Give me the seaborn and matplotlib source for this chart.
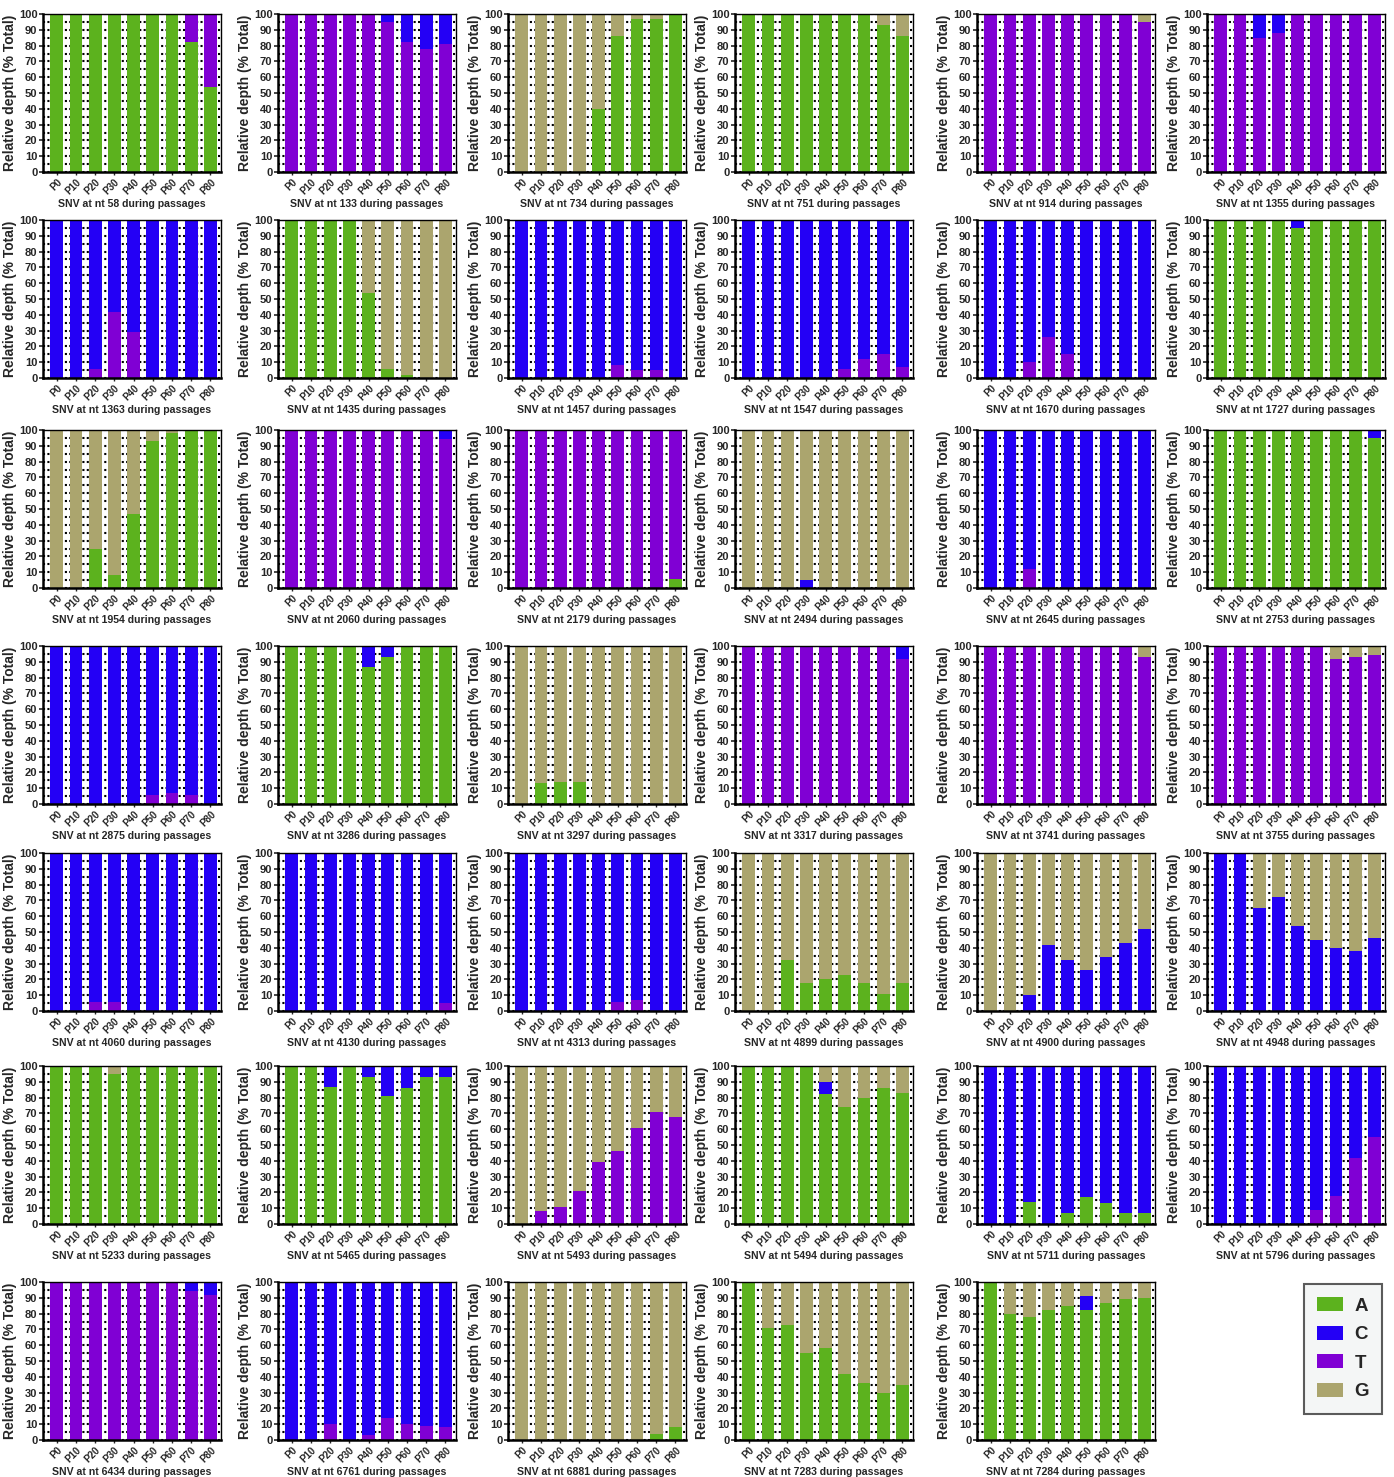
import numpy as np
import matplotlib
matplotlib.use("Agg")
import matplotlib.pyplot as plt
from matplotlib.patches import Patch
import seaborn as sns

# ── Data ──────────────────────────────────────────────────────────────────────
PASSAGES = ["P0", "P10", "P20", "P30", "P40", "P50", "P60", "P70", "P80"]
SITES = [58, 133, 734, 751, 914, 1355,
         1363, 1435, 1457, 1547, 1670, 1727,
         1954, 2060, 2179, 2494, 2645, 2753,
         2875, 3286, 3297, 3317, 3741, 3755,
         4060, 4130, 4313, 4899, 4900, 4948,
         5233, 5465, 5493, 5494, 5711, 5796,
         6434, 6761, 6881, 7283, 7284]

Z = [0, 0, 0, 0, 0, 0, 0, 0, 0]

A_PCT = [
    [100, 100, 100, 100, 100, 100, 100, 82, 54],   # 58
    Z,                                              # 133
    [0, 0, 0, 0, 40, 86, 97, 97, 100],             # 734
    [100, 100, 100, 100, 100, 100, 100, 93, 86],   # 751
    Z, Z,                                           # 914, 1355
    Z,                                              # 1363
    [100, 100, 100, 100, 54, 6, 2, 0, 0],          # 1435
    Z, Z, Z,                                        # 1457, 1547, 1670
    [100, 100, 100, 100, 95, 100, 100, 100, 100],  # 1727
    [0, 0, 25, 8, 47, 93, 98, 100, 100],           # 1954
    Z,                                              # 2060
    [0, 0, 0, 0, 0, 0, 0, 0, 6],                   # 2179
    Z, Z,                                           # 2494, 2645
    [100, 100, 100, 100, 100, 100, 100, 100, 95],  # 2753
    Z,                                              # 2875
    [100, 100, 100, 100, 87, 93, 100, 100, 100],   # 3286
    [0, 13, 14, 14, 0, 0, 0, 0, 0],                # 3297
    Z, Z, Z,                                        # 3317, 3741, 3755
    Z, Z, Z,                                        # 4060, 4130, 4313
    [0, 0, 32, 18, 20, 23, 18, 11, 18],            # 4899
    Z, Z,                                           # 4900, 4948
    [100, 100, 100, 95, 100, 100, 100, 100, 100],  # 5233
    [100, 100, 87, 100, 93, 81, 86, 93, 93],       # 5465
    Z,                                              # 5493
    [100, 100, 100, 100, 82, 74, 80, 86, 83],      # 5494
    [0, 0, 14, 0, 7, 17, 13, 7, 7],                # 5711
    Z,                                              # 5796
    Z, Z,                                           # 6434, 6761
    [0, 0, 0, 0, 0, 0, 0, 4, 8],                   # 6881
    [100, 71, 73, 55, 58, 42, 36, 30, 35],         # 7283
    [100, 80, 78, 82, 85, 82, 87, 89, 90],         # 7284
]

T_PCT = [
    [0, 0, 0, 0, 0, 0, 0, 18, 46],                 # 58
    [100, 100, 100, 100, 100, 95, 82, 78, 81],     # 133
    Z, Z,                                           # 734, 751
    [100, 100, 100, 100, 100, 100, 100, 100, 95],  # 914
    [100, 100, 85, 88, 100, 100, 100, 100, 100],   # 1355
    [0, 0, 6, 42, 29, 0, 0, 0, 0],                 # 1363
    Z,                                              # 1435
    [0, 0, 0, 0, 0, 8, 5, 5, 0],                   # 1457
    [0, 0, 0, 0, 0, 6, 12, 15, 7],                 # 1547
    [0, 0, 10, 26, 15, 0, 0, 0, 0],                # 1670
    Z,                                              # 1727
    Z,                                              # 1954
    [100, 100, 100, 100, 100, 100, 100, 100, 94],  # 2060
    [100, 100, 100, 100, 100, 100, 100, 100, 94],  # 2179
    Z,                                              # 2494
    [0, 0, 12, 0, 0, 0, 0, 0, 0],                  # 2645
    Z,                                              # 2753
    [0, 0, 0, 0, 0, 6, 7, 6, 0],                   # 2875
    Z, Z,                                           # 3286, 3297
    [100, 100, 100, 100, 100, 100, 100, 100, 92],  # 3317
    [100, 100, 100, 100, 100, 100, 100, 100, 93],  # 3741
    [100, 100, 100, 100, 100, 100, 92, 93, 94],    # 3755
    [0, 0, 6, 6, 0, 0, 0, 0, 0],                   # 4060
    [0, 0, 0, 0, 0, 0, 0, 0, 5],                   # 4130
    [0, 0, 0, 0, 0, 6, 7, 0, 0],                   # 4313
    Z, Z, Z,                                        # 4899, 4900, 4948
    Z, Z,                                           # 5233, 5465
    [0, 8, 11, 21, 39, 46, 61, 71, 68],            # 5493
    Z, Z,                                           # 5494, 5711
    [0, 0, 0, 0, 0, 9, 18, 42, 55],                # 5796
    [100, 100, 100, 100, 100, 100, 100, 94, 92],   # 6434
    [0, 0, 10, 0, 3, 14, 10, 9, 8],                # 6761
    Z, Z, Z,                                        # 6881, 7283, 7284
]

C_PCT = [
    Z,                                              # 58
    [0, 0, 0, 0, 0, 5, 18, 22, 19],                # 133
    Z, Z, Z,                                        # 734, 751, 914
    [0, 0, 15, 12, 0, 0, 0, 0, 0],                 # 1355
    [100, 100, 94, 58, 71, 100, 100, 100, 100],    # 1363
    Z,                                              # 1435
    [100, 100, 100, 100, 100, 92, 95, 95, 100],    # 1457
    [100, 100, 100, 100, 100, 94, 88, 85, 93],     # 1547
    [100, 100, 90, 74, 85, 100, 100, 100, 100],    # 1670
    [0, 0, 0, 0, 5, 0, 0, 0, 0],                   # 1727
    Z,                                              # 1954
    [0, 0, 0, 0, 0, 0, 0, 0, 6],                   # 2060
    Z,                                              # 2179
    [0, 0, 0, 5, 0, 0, 0, 0, 0],                   # 2494
    [100, 100, 88, 100, 100, 100, 100, 100, 100],  # 2645
    [0, 0, 0, 0, 0, 0, 0, 0, 5],                   # 2753
    [100, 100, 100, 100, 100, 94, 93, 94, 100],    # 2875
    [0, 0, 0, 0, 13, 7, 0, 0, 0],                  # 3286
    Z,                                              # 3297
    [0, 0, 0, 0, 0, 0, 0, 0, 8],                   # 3317
    Z, Z,                                           # 3741, 3755
    [100, 100, 94, 94, 100, 100, 100, 100, 100],   # 4060
    [100, 100, 100, 100, 100, 100, 100, 100, 95],  # 4130
    [100, 100, 100, 100, 100, 94, 93, 100, 100],   # 4313
    Z,                                              # 4899
    [0, 0, 10, 42, 32, 26, 34, 43, 52],            # 4900
    [100, 100, 65, 72, 54, 45, 40, 38, 46],        # 4948
    Z,                                              # 5233
    [0, 0, 13, 0, 7, 19, 14, 7, 7],                # 5465
    Z,                                              # 5493
    [0, 0, 0, 0, 8, 0, 0, 0, 0],                   # 5494
    [100, 100, 86, 100, 93, 83, 87, 93, 93],       # 5711
    [100, 100, 100, 100, 100, 91, 82, 58, 45],     # 5796
    [0, 0, 0, 0, 0, 0, 0, 6, 8],                   # 6434
    [100, 100, 90, 100, 97, 86, 90, 91, 92],       # 6761
    Z, Z,                                           # 6881, 7283
    [0, 0, 0, 0, 0, 9, 0, 0, 0],                   # 7284
]

G_PCT = [
    Z, Z,                                           # 58, 133
    [100, 100, 100, 100, 60, 14, 3, 3, 0],         # 734
    [0, 0, 0, 0, 0, 0, 0, 7, 14],                  # 751
    [0, 0, 0, 0, 0, 0, 0, 0, 5],                   # 914
    Z, Z,                                           # 1355, 1363
    [0, 0, 0, 0, 46, 94, 98, 100, 100],            # 1435
    Z, Z, Z, Z,                                     # 1457, 1547, 1670, 1727
    [100, 100, 75, 92, 53, 7, 2, 0, 0],            # 1954
    Z, Z,                                           # 2060, 2179
    [100, 100, 100, 95, 100, 100, 100, 100, 100],  # 2494
    Z, Z, Z, Z,                                     # 2645, 2753, 2875, 3286
    [100, 87, 86, 86, 100, 100, 100, 100, 100],    # 3297
    Z,                                              # 3317
    [0, 0, 0, 0, 0, 0, 0, 0, 7],                   # 3741
    [0, 0, 0, 0, 0, 0, 8, 7, 6],                   # 3755
    Z, Z, Z,                                        # 4060, 4130, 4313
    [100, 100, 68, 82, 80, 77, 82, 89, 82],        # 4899
    [100, 100, 90, 58, 68, 74, 66, 57, 48],        # 4900
    [0, 0, 35, 28, 46, 55, 60, 62, 54],            # 4948
    [0, 0, 0, 5, 0, 0, 0, 0, 0],                   # 5233
    Z,                                              # 5465
    [100, 92, 89, 79, 61, 54, 39, 29, 32],         # 5493
    [0, 0, 0, 0, 10, 26, 20, 14, 17],              # 5494
    Z, Z, Z, Z,                                     # 5711, 5796, 6434, 6761
    [100, 100, 100, 100, 100, 100, 100, 96, 92],   # 6881
    [0, 29, 27, 45, 42, 58, 64, 70, 65],           # 7283
    [0, 20, 22, 18, 15, 9, 13, 11, 10],            # 7284
]

# ── Style ─────────────────────────────────────────────────────────────────────
BASE_COLORS = {"A": "#5cb21e", "C": "#2400f5", "T": "#8000d4", "G": "#aba56e"}
STACK_ORDER = ["A", "T", "C", "G"]          # bottom -> top
LEGEND_ORDER = ["A", "C", "T", "G"]

sns.set_style("ticks")
plt.rcParams["font.family"] = ["Liberation Sans", "DejaVu Sans"]
plt.rcParams["font.weight"] = "bold"

W, H = 1394, 1477
fig = plt.figure(figsize=(W / 100, H / 100), dpi=100)

COL_LEFT = [43, 278, 508, 735, 977, 1207]
ROW_TOP = [14, 220, 430, 646, 853, 1066, 1282]
AX_W, AX_H = 178, 158


def draw_panel(ax, idx):
    layers = {"A": A_PCT[idx], "T": T_PCT[idx], "C": C_PCT[idx], "G": G_PCT[idx]}
    cum = np.cumsum([np.array(layers[b], dtype=float) for b in STACK_ORDER], axis=0)
    # draw tallest cumulative first so lower layers sit on top of it
    for level in range(len(STACK_ORDER) - 1, -1, -1):
        sns.barplot(x=PASSAGES, y=cum[level], order=PASSAGES, ax=ax,
                    color=BASE_COLORS[STACK_ORDER[level]], saturation=1,
                    width=0.67, linewidth=0)
    ax.set_xlim(-0.72, 8.55)
    ax.set_ylim(0, 100)
    ax.set_yticks(range(0, 101, 10))
    ax.set_yticks(range(0, 101, 5), minor=True)
    ax.set_axisbelow(True)
    ax.grid(axis="y", which="both", color="black", linestyle=(0, (1, 1.1)),
            linewidth=1.5)
    ax.tick_params(axis="y", which="major", labelsize=8, length=3, width=1.2,
                   pad=1)
    ax.tick_params(axis="y", which="minor", length=0)
    ax.tick_params(axis="x", labelsize=7, length=2.5, width=1, pad=1)
    plt.setp(ax.get_xticklabels(), rotation=45, ha="right",
             rotation_mode="anchor", fontweight="bold")
    plt.setp(ax.get_yticklabels(), fontweight="bold")
    for side in ["left", "bottom"]:
        ax.spines[side].set_linewidth(1.8)
    for side in ["top", "right"]:
        ax.spines[side].set_visible(True)
        ax.spines[side].set_linewidth(1.0)
    for sp in ax.spines.values():
        sp.set_color("black")
    ax.set_ylabel("Relative depth (% Total)", fontsize=10, fontweight="bold",
                  labelpad=1)
    ax.set_xlabel(f"SNV at nt {SITES[idx]} during passages", fontsize=7.6,
                  fontweight="bold", labelpad=2)


for i in range(len(SITES)):
    r, c = divmod(i, 6)
    left = COL_LEFT[c] / W
    bottom = 1 - (ROW_TOP[r] + AX_H) / H
    ax = fig.add_axes([left, bottom, AX_W / W, AX_H / H])
    draw_panel(ax, i)

handles = [Patch(facecolor=BASE_COLORS[b], edgecolor="none") for b in LEGEND_ORDER]
leg = fig.legend(handles, LEGEND_ORDER, loc="upper left",
                 bbox_to_anchor=(1304 / W, 1 - 1284 / H),
                 prop={"size": 13.5, "weight": "bold"}, frameon=True,
                 fancybox=False, facecolor="#f2f4f4", edgecolor="#333333",
                 handlelength=1.4, handleheight=0.75, handletextpad=0.6,
                 labelspacing=0.6, borderpad=0.7, borderaxespad=0)
leg.get_frame().set_linewidth(1.5)

fig.savefig("out.png", dpi=100)
